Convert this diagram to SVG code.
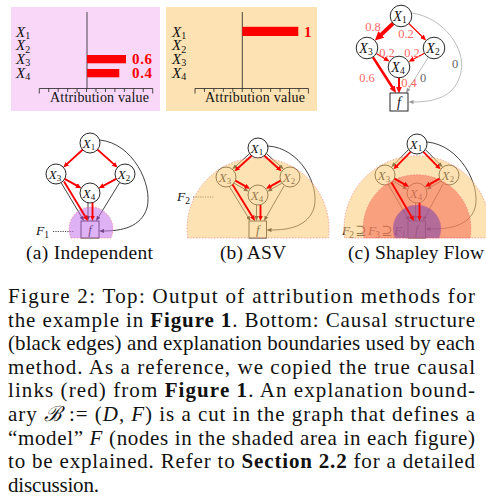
<svg xmlns="http://www.w3.org/2000/svg" width="486" height="500" viewBox="0 0 486 500">
<style>
text{font-family:"Liberation Serif","DejaVu Serif",serif;fill:#111}
.it{font-style:italic}
.node{fill:#fff;stroke:#111;stroke-width:0.9}
.ek{stroke:#111;stroke-width:0.8;fill:none;marker-end:url(#mk)}
.er{stroke:#f00;stroke-width:1.9;fill:none;marker-end:url(#mrb)}
.eg{stroke:#aaa;stroke-width:0.8;fill:none;marker-end:url(#mg)}
.ax{stroke:#222;stroke-width:0.8;fill:none}
.wl{fill:#ff6868;font-size:12.5px}
.gl{fill:#666;font-size:12.5px}
.bl{fill:#f00;font-size:15px;font-weight:bold}
.reg{stroke:#ee7777;stroke-width:0.6;stroke-dasharray:1.5 1.5;fill-opacity:0.55}
.cap{font-size:21px}
.sub{font-size:19.5px}
</style>
<defs>
<marker id="mk" markerUnits="userSpaceOnUse" viewBox="0 0 5 4" markerWidth="5" markerHeight="4" refX="0.5" refY="2" orient="auto"><path d="M0,0 L5,2 L0,4 z" fill="#111"/></marker>
<marker id="mg" markerUnits="userSpaceOnUse" viewBox="0 0 5 4" markerWidth="5" markerHeight="4" refX="0.5" refY="2" orient="auto"><path d="M0,0 L5,2 L0,4 z" fill="#999"/></marker>
<marker id="mrb" markerUnits="userSpaceOnUse" viewBox="0 0 5.5 5" markerWidth="5.5" markerHeight="5" refX="0.5" refY="2.5" orient="auto"><path d="M0,0 L5.5,2.5 L0,5 z" fill="#f00"/></marker>
<marker id="mr1" markerUnits="userSpaceOnUse" viewBox="0 0 6 5" markerWidth="6" markerHeight="5" refX="0.5" refY="2.5" orient="auto"><path d="M0,0 L6,2.5 L0,5 z" fill="#f00"/></marker>
<marker id="mr2" markerUnits="userSpaceOnUse" viewBox="0 0 7 6" markerWidth="7" markerHeight="6" refX="0.5" refY="3" orient="auto"><path d="M0,0 L7,3 L0,6 z" fill="#f00"/></marker>
<marker id="mr3" markerUnits="userSpaceOnUse" viewBox="0 0 9 9" markerWidth="9" markerHeight="9" refX="1" refY="4.5" orient="auto"><path d="M0,0 L9,4.5 L0,9 z" fill="#f00"/></marker>
</defs>
<rect width="486" height="500" fill="#fff"/>

<!-- Top left chart: Independent -->
<g id="chart-independent">
<rect x="11" y="7" width="149" height="104" fill="#f8d7f8"/>
<line class="ax" x1="87" y1="12" x2="87" y2="88.5"/>
<line class="ax" x1="39.3" y1="88.5" x2="152.7" y2="88.5"/>
<path class="ax" d="M39.3,88.5V93.5 M48.75,88.5V92 M58.2,88.5V92 M67.65,88.5V92 M77.1,88.5V92 M86.55,88.5V92 M96,88.5V92 M105.45,88.5V92 M114.9,88.5V92 M124.35,88.5V92 M133.8,88.5V92 M143.25,88.5V92 M152.7,88.5V93.5"/>
<text x="16" y="36.5" font-size="15" class="it">X<tspan font-size="10" dy="2.5" font-style="normal">1</tspan></text>
<text x="16" y="50.2" font-size="15" class="it">X<tspan font-size="10" dy="2.5" font-style="normal">2</tspan></text>
<text x="16" y="63.9" font-size="15" class="it">X<tspan font-size="10" dy="2.5" font-style="normal">3</tspan></text>
<text x="16" y="77.6" font-size="15" class="it">X<tspan font-size="10" dy="2.5" font-style="normal">4</tspan></text>
<rect x="87" y="55" width="39" height="8.3" fill="#f00"/>
<rect x="87" y="69" width="32.3" height="8.3" fill="#f00"/>
<text x="132" y="64" class="bl" textLength="20">0.6</text>
<text x="132" y="77.8" class="bl" textLength="20">0.4</text>
<text x="50" y="101.5" font-size="14" textLength="99">Attribution value</text>
</g>

<!-- Top middle chart: ASV -->
<g id="chart-asv">
<rect x="166" y="7" width="151" height="104" fill="#fde2b3"/>
<line class="ax" x1="242.3" y1="12" x2="242.3" y2="88.5"/>
<line class="ax" x1="195" y1="88.5" x2="308.4" y2="88.5"/>
<path class="ax" d="M195,88.5V93.5 M204.45,88.5V92 M213.9,88.5V92 M223.35,88.5V92 M232.8,88.5V92 M242.25,88.5V92 M251.7,88.5V92 M261.15,88.5V92 M270.6,88.5V92 M280.05,88.5V92 M289.5,88.5V92 M298.95,88.5V92 M308.4,88.5V93.5"/>
<text x="172" y="36.5" font-size="15" class="it">X<tspan font-size="10" dy="2.5" font-style="normal">1</tspan></text>
<text x="172" y="50.2" font-size="15" class="it">X<tspan font-size="10" dy="2.5" font-style="normal">2</tspan></text>
<text x="172" y="63.9" font-size="15" class="it">X<tspan font-size="10" dy="2.5" font-style="normal">3</tspan></text>
<text x="172" y="77.6" font-size="15" class="it">X<tspan font-size="10" dy="2.5" font-style="normal">4</tspan></text>
<rect x="242.3" y="26.8" width="56" height="9.2" fill="#f00"/>
<text x="304" y="36.5" class="bl">1</text>
<text x="205" y="101.5" font-size="14" textLength="100">Attribution value</text>
</g>

<!-- Top right: true causal graph -->
<g id="top-edges">
<path class="eg" d="M412,13 C445,18 466,50 461,72 C456,95 438,102 413,102"/>
<line class="eg" x1="428.3" y1="57.2" x2="408.4" y2="89.2"/>
<line stroke="#f00" stroke-width="4" marker-end="url(#mr3)" x1="393.1" y1="23.4" x2="380.7" y2="35.1"/>
<line stroke="#f00" stroke-width="1.2" marker-end="url(#mr1)" x1="408.8" y1="23.5" x2="422.3" y2="36.7"/>
<line stroke="#f00" stroke-width="1.2" marker-end="url(#mr1)" x1="376.3" y1="53.5" x2="385" y2="58.7"/>
<line stroke="#f00" stroke-width="1.2" marker-end="url(#mr1)" x1="424.5" y1="53.2" x2="413.3" y2="59.2"/>
<line stroke="#f00" stroke-width="2.6" marker-end="url(#mr2)" x1="372.9" y1="57.1" x2="392.5" y2="87.5"/>
<line stroke="#f00" stroke-width="2" marker-end="url(#mr2)" x1="399" y1="77.8" x2="399" y2="87"/>
<text class="wl" x="373" y="31" text-anchor="middle">0.8</text>
<text class="wl" x="406" y="38" text-anchor="middle">0.2</text>
<text class="wl" x="387" y="57" text-anchor="middle">0.2</text>
<text class="wl" x="412" y="57" text-anchor="middle">0.2</text>
<text class="wl" x="367" y="82" text-anchor="middle">0.6</text>
<text class="wl" x="409" y="87" text-anchor="middle">0.4</text>
<text class="gl" x="423" y="82" text-anchor="middle">0</text>
<text class="gl" x="455" y="68" text-anchor="middle">0</text>
</g>
<g id="t-X1"><circle class="node" cx="401" cy="16" r="10.8"/><text x="400" y="20.5" font-size="14" class="it" text-anchor="middle">X<tspan font-size="9.5" dy="2" font-style="normal">1</tspan></text></g>
<g id="t-X2"><circle class="node" cx="434" cy="48" r="10.8"/><text x="433" y="52.5" font-size="14" class="it" text-anchor="middle">X<tspan font-size="9.5" dy="2" font-style="normal">2</tspan></text></g>
<g id="t-X3"><circle class="node" cx="367" cy="48" r="10.8"/><text x="366" y="52.5" font-size="14" class="it" text-anchor="middle">X<tspan font-size="9.5" dy="2" font-style="normal">3</tspan></text></g>
<g id="t-X4"><circle class="node" cx="399" cy="67" r="10.8"/><text x="398" y="71.5" font-size="14" class="it" text-anchor="middle">X<tspan font-size="9.5" dy="2" font-style="normal">4</tspan></text></g>
<g id="t-f"><rect class="node" x="390" y="93" width="18" height="18"/><text x="399" y="106.5" font-size="14" class="it" text-anchor="middle">f</text></g>

<!-- (a) Independent -->
<g id="a-edges">
<path class="ek" d="M99.5,140 C133,143 153,185 147,208 C141,227 122,231 103.5,231"/>
<line class="ek" x1="82.6" y1="149.7" x2="67" y2="164"/>
<line class="ek" x1="97.5" y1="149.6" x2="114" y2="164.2"/>
<line class="ek" x1="64.7" y1="178.9" x2="77.4" y2="186"/>
<line class="ek" x1="116.2" y1="178.8" x2="102.8" y2="186"/>
<line class="ek" x1="61.1" y1="182.6" x2="81.7" y2="217.1"/>
<line class="ek" x1="88" y1="203" x2="88" y2="216.5"/>
<line class="ek" x1="119.7" y1="182.5" x2="98.4" y2="217.2"/>
</g>
<g id="a-X1"><circle class="node" cx="90" cy="143" r="10"/><text x="89" y="147.5" font-size="13" class="it" text-anchor="middle">X<tspan font-size="9" dy="2.5" font-style="normal">1</tspan></text></g>
<g id="a-X2"><circle class="node" cx="125" cy="174" r="10"/><text x="124" y="178.5" font-size="13" class="it" text-anchor="middle">X<tspan font-size="9" dy="2.5" font-style="normal">2</tspan></text></g>
<g id="a-X3"><circle class="node" cx="56" cy="174" r="10"/><text x="55" y="178.5" font-size="13" class="it" text-anchor="middle">X<tspan font-size="9" dy="2.5" font-style="normal">3</tspan></text></g>
<g id="a-X4"><circle class="node" cx="90" cy="193" r="10"/><text x="89" y="197.5" font-size="13" class="it" text-anchor="middle">X<tspan font-size="9" dy="2.5" font-style="normal">4</tspan></text></g>
<g id="a-f"><rect class="node" x="81" y="221" width="18" height="17"/><text x="90" y="234" font-size="13" class="it" text-anchor="middle">f</text></g>
<g id="a-label">
<text x="36" y="235" font-size="13.5" class="it">F<tspan font-size="9.5" dy="2.5" font-style="normal">1</tspan></text>
<line x1="53" y1="231.5" x2="74" y2="231.5" stroke="#222" stroke-width="0.8" stroke-dasharray="1.2 1.2"/>
</g>
<path id="a-region" class="reg" fill="#c373ed" d="M70.9,238 A22,22 0 1 1 111.1,238 Z"/>
<g id="a-red">
<line class="er" x1="82.6" y1="149.7" x2="67.1" y2="163.9"/>
<line class="er" x1="97.5" y1="149.6" x2="113.8" y2="164.1"/>
<line class="er" x1="64.7" y1="178.9" x2="76.9" y2="185.7"/>
<line class="er" x1="116.2" y1="178.8" x2="103.2" y2="185.8"/>
<line class="er" x1="64" y1="181.5" x2="85.4" y2="216.7"/>
<line class="er" x1="92.5" y1="202.7" x2="92.5" y2="216"/>
</g>

<!-- (b) ASV -->
<g id="b-edges">
<path class="ek" d="M268,146 C300,148 320,185 314,208 C308,226 290,230 271,230"/>
<line class="ek" x1="249.6" y1="153.6" x2="235.7" y2="166.2"/>
<line class="ek" x1="266.4" y1="153.6" x2="280.3" y2="166.2"/>
<line class="ek" x1="234" y1="183.2" x2="244.7" y2="189.2"/>
<line class="ek" x1="282" y1="183.2" x2="271.3" y2="189.2"/>
<line class="ek" x1="229" y1="186" x2="248.1" y2="217.2"/>
<line class="ek" x1="256.5" y1="205" x2="256.5" y2="216.5"/>
<line class="ek" x1="284" y1="186" x2="266.2" y2="217.1"/>
</g>
<g id="b-X1"><circle class="node" cx="258" cy="148" r="10"/><text x="257" y="152.5" font-size="13" class="it" text-anchor="middle">X<tspan font-size="9" dy="2.5" font-style="normal">1</tspan></text></g>
<g id="b-X2"><circle class="node" cx="290" cy="177" r="10"/><text x="289" y="181.5" font-size="13" class="it" text-anchor="middle">X<tspan font-size="9" dy="2.5" font-style="normal">2</tspan></text></g>
<g id="b-X3"><circle class="node" cx="226" cy="177" r="10"/><text x="225" y="181.5" font-size="13" class="it" text-anchor="middle">X<tspan font-size="9" dy="2.5" font-style="normal">3</tspan></text></g>
<g id="b-X4"><circle class="node" cx="258" cy="195" r="10"/><text x="257" y="199.5" font-size="13" class="it" text-anchor="middle">X<tspan font-size="9" dy="2.5" font-style="normal">4</tspan></text></g>
<g id="b-f"><rect class="node" x="249" y="221" width="17.5" height="17"/><text x="257.7" y="234" font-size="13" class="it" text-anchor="middle">f</text></g>
<g id="b-label">
<text x="177" y="201" font-size="13.5" class="it">F<tspan font-size="9.5" dy="2.5" font-style="normal">2</tspan></text>
<line x1="193" y1="197" x2="214" y2="197" stroke="#333" stroke-width="0.8" stroke-dasharray="1.2 1.2"/>
</g>
<path id="b-region" class="reg" fill="#fbca77" d="M187.6,238 A71,71 0 1 1 328.4,238 Z"/>
<g id="b-red">
<line class="er" x1="251.6" y1="155.8" x2="238.1" y2="168"/>
<line class="er" x1="264.4" y1="155.8" x2="277.9" y2="168"/>
<line class="er" x1="235.4" y1="180.6" x2="245.6" y2="186.3"/>
<line class="er" x1="280.6" y1="180.6" x2="270.4" y2="186.3"/>
<line class="er" x1="232.5" y1="184.5" x2="252.4" y2="216.7"/>
<line class="er" x1="260.5" y1="205" x2="260.5" y2="216"/>
</g>

<!-- (c) Shapley Flow -->
<g id="c-edges">
<path class="ek" d="M427,142 C460,145 481,185 475,208 C469,226 450,229 430,229"/>
<line class="ek" x1="408.6" y1="149.6" x2="394.5" y2="164"/>
<line class="ek" x1="425.4" y1="149.6" x2="439.5" y2="164"/>
<line class="ek" x1="393" y1="181.2" x2="403.7" y2="187.2"/>
<line class="ek" x1="441" y1="181.2" x2="430.3" y2="187.2"/>
<line class="ek" x1="388" y1="184" x2="407.2" y2="217.1"/>
<line class="ek" x1="415.5" y1="203" x2="415.5" y2="216.5"/>
<line class="ek" x1="443" y1="184" x2="425.1" y2="217"/>
</g>
<g id="c-X1"><circle class="node" cx="417" cy="144" r="10"/><text x="416" y="148.5" font-size="13" class="it" text-anchor="middle">X<tspan font-size="9" dy="2.5" font-style="normal">1</tspan></text></g>
<g id="c-X2"><circle class="node" cx="449" cy="175" r="10"/><text x="448" y="179.5" font-size="13" class="it" text-anchor="middle">X<tspan font-size="9" dy="2.5" font-style="normal">2</tspan></text></g>
<g id="c-X3"><circle class="node" cx="385" cy="175" r="10"/><text x="384" y="179.5" font-size="13" class="it" text-anchor="middle">X<tspan font-size="9" dy="2.5" font-style="normal">3</tspan></text></g>
<g id="c-X4"><circle class="node" cx="417" cy="193" r="10"/><text x="416" y="197.5" font-size="13" class="it" text-anchor="middle">X<tspan font-size="9" dy="2.5" font-style="normal">4</tspan></text></g>
<g id="c-f"><rect class="node" x="408" y="221" width="17.5" height="17"/><text x="416.7" y="234" font-size="13" class="it" text-anchor="middle">f</text></g>
<g id="c-label">
<text x="342" y="235" font-size="13.5" textLength="64"><tspan class="it">F</tspan><tspan font-size="9.5" dy="2.5">2</tspan><tspan dy="-2.5"> ⊇ </tspan><tspan class="it">F</tspan><tspan font-size="9.5" dy="2.5">3</tspan><tspan dy="-2.5"> ⊇ </tspan><tspan class="it">F</tspan><tspan font-size="9.5" dy="2.5">1</tspan></text>
</g>
<g id="c-regions">
<path class="reg" fill="#fbca77" d="M344.6,238 A73,73 0 1 1 489.4,238 Z"/>
<path class="reg" fill="#f66a54" d="M363.8,238 A54,54 0 1 1 470.2,238 Z"/>
<path class="reg" fill="#7a3fb0" d="M394.8,238 A24,24 0 1 1 439.2,238 Z"/>
</g>
<g id="c-red">
<line class="er" x1="410.6" y1="151.8" x2="396.9" y2="165.8"/>
<line class="er" x1="423.4" y1="151.8" x2="437.1" y2="165.8"/>
<line class="er" x1="394.4" y1="178.6" x2="404.6" y2="184.3"/>
<line class="er" x1="439.6" y1="178.6" x2="429.4" y2="184.3"/>
<line class="er" x1="391.5" y1="182.5" x2="411.5" y2="216.7"/>
<line class="er" x1="419.5" y1="203" x2="419.5" y2="216"/>
</g>

<!-- Sub-captions -->
<text class="sub" x="26" y="259" textLength="127">(a) Independent</text>
<text class="sub" x="220" y="259" textLength="66">(b) ASV</text>
<text class="sub" x="348" y="259" textLength="136">(c) Shapley Flow</text>

<!-- Caption -->
<g id="caption" class="cap">
<text x="8" y="303" textLength="467">Figure 2:  Top:  Output of attribution methods for</text>
<text x="8" y="326.6" textLength="467">the example in <tspan font-weight="bold">Figure 1</tspan>.  Bottom: Causal structure</text>
<text x="8" y="350.2" textLength="467">(black edges) and explanation boundaries used by each</text>
<text x="8" y="373.8" textLength="467">method.  As a reference, we copied the true causal</text>
<text x="8" y="397.4" textLength="467">links (red) from <tspan font-weight="bold">Figure 1</tspan>.  An explanation bound-</text>
<text x="8" y="421" textLength="467">ary <tspan class="it">ℬ</tspan> := (<tspan class="it">D</tspan>, <tspan class="it">F</tspan>) is a cut in the graph that defines a</text>
<text x="8" y="444.6" textLength="467">“model” <tspan class="it">F</tspan> (nodes in the shaded area in each figure)</text>
<text x="8" y="468.2" textLength="467">to be explained. Refer to <tspan font-weight="bold">Section 2.2</tspan> for a detailed</text>
<text x="8" y="491.8" textLength="91">discussion.</text>
</g>
</svg>
